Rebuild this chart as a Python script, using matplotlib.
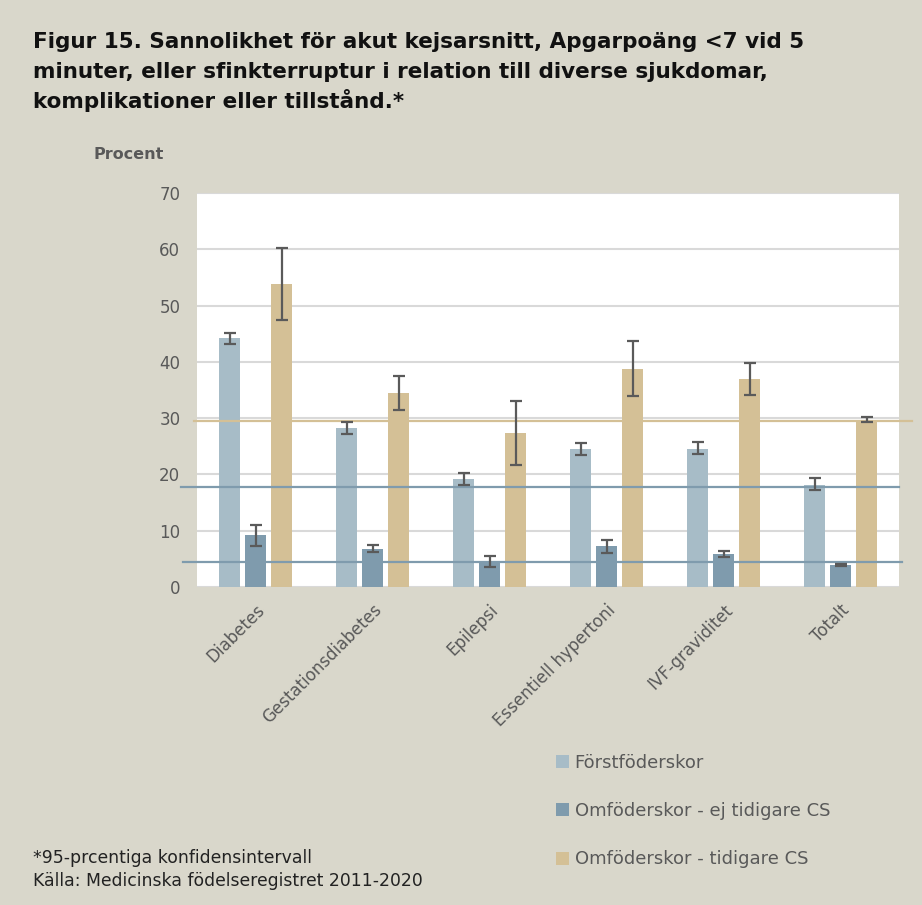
import numpy as np
import matplotlib as mpl
import matplotlib.pyplot as plt
from matplotlib.patches import Patch

mpl.rc('font', family='DejaVu Sans')

##### DATA #####

categories = ["Diabetes", "Gestationsdiabetes", "Epilepsi",
              "Essentiell hypertoni", "IVF-graviditet", "Totalt"]
seriesNames = ["Förstföderskor", "Omföderskor - ej tidigare CS",
               "Omföderskor - tidigare CS"]

first   = [44.2, 28.2, 19.2, 24.5, 24.6, 18.2]
firstLo = [43.2, 27.2, 18.2, 23.5, 23.7, 17.3]
firstHi = [45.2, 29.25, 20.2, 25.6, 25.75, 19.4]

multiNo   = [9.2, 6.8, 4.5, 7.2, 5.9, 3.9]
multiNoLo = [7.3, 6.2, 3.55, 6.0, 5.4, 3.8]
multiNoHi = [11.1, 7.5, 5.5, 8.3, 6.45, 4.0]

multiCS   = [53.9, 34.4, 27.35, 38.8, 36.9, 29.7]
multiCSLo = [47.5, 31.4, 21.7, 34.0, 34.1, 29.25]
multiCSHi = [60.3, 37.5, 33.0, 43.7, 39.8, 30.25]

# reference levels (totals) drawn as horizontal lines
refLevels = [29.5, 17.8, 4.5]

titleLines = ["Figur 15. Sannolikhet för akut kejsarsnitt, Apgarpoäng <7 vid 5",
              "minuter, eller sfinkterruptur i relation till diverse sjukdomar,",
              "komplikationer eller tillstånd.*"]

##### STYLE #####

bgColor = "#d9d7cb"
txtColor = "#595959"
barColors = ["#a7bcc7", "#7f9bad", "#d4c096"]
refColors = ["#d4c096", "#7f9bad", "#7f9bad"]
refSpans = [(-0.004, 1.0185), (-0.023, 1.0), (-0.02, 1.004)]

fig = plt.figure(figsize=(9.22, 9.05), dpi=100, facecolor=bgColor)
ax = fig.add_axes([0.2137, 0.3514, 0.7614, 0.4353])
ax.set_facecolor("white")

x = np.arange(len(categories))
barW = 0.18
step = 0.222

series = [(first, firstLo, firstHi),
          (multiNo, multiNoLo, multiNoHi),
          (multiCS, multiCSLo, multiCSHi)]

for i, (vals, lo, hi) in enumerate(series):
    vals = np.array(vals)
    yerr = [vals - np.array(lo), np.array(hi) - vals]
    ax.bar(x + (i - 1) * step, vals, width=barW, color=barColors[i], zorder=2)
    ax.errorbar(x + (i - 1) * step, vals, yerr=yerr, fmt='none',
                ecolor="#5a5a5a", elinewidth=1.6, capsize=4.5, capthick=1.6, zorder=4)

trans = mpl.transforms.blended_transform_factory(ax.transAxes, ax.transData)
for lvl, col, span in zip(refLevels, refColors, refSpans):
    ax.plot(span, [lvl, lvl], color=col, lw=1.6, transform=trans,
            clip_on=False, zorder=3)

ax.set_xlim(-0.5, len(categories) - 0.5)
ax.set_ylim(0, 70)
ax.set_yticks(np.arange(0, 71, 10))
ax.yaxis.grid(True, color="#d9d9d9", lw=1.5, zorder=0)
ax.set_axisbelow(True)
for s in ax.spines.values():
    s.set_visible(False)
ax.tick_params(axis='both', length=0, labelsize=12, labelcolor=txtColor)
ax.tick_params(axis='y', pad=12)
ax.set_xticks(x)
ax.set_xticklabels(categories, rotation=45, ha='right', va='top',
                   rotation_mode='anchor')
ax.tick_params(axis='x', pad=10)

fig.text(0.101, 0.829, "Procent", fontsize=11.5, fontweight='bold',
         color=txtColor, ha='left', va='center')

# title, one line at a time so the spacing matches
for k, line in enumerate(titleLines):
    fig.text(0.036, 1 - (48 + 30 * k) / 905, line, fontsize=15.5,
             fontweight='bold', color="#111111", ha='left', va='baseline')

handles = [Patch(facecolor=c, edgecolor='none') for c in barColors]
fig.legend(handles, seriesNames, loc='upper left', bbox_to_anchor=(0.585, 0.185),
           frameon=False, fontsize=13, labelcolor=txtColor, handlelength=0.75,
           handleheight=0.75, handletextpad=0.3, labelspacing=1.68)

fig.text(0.036, 0.039, "*95-prcentiga konfidensintervall\nKälla: Medicinska födelseregistret 2011-2020",
         fontsize=12.4, color="#222222", ha='left', va='center', linespacing=1.35)

plt.savefig("out.png", dpi=100, facecolor=bgColor)
